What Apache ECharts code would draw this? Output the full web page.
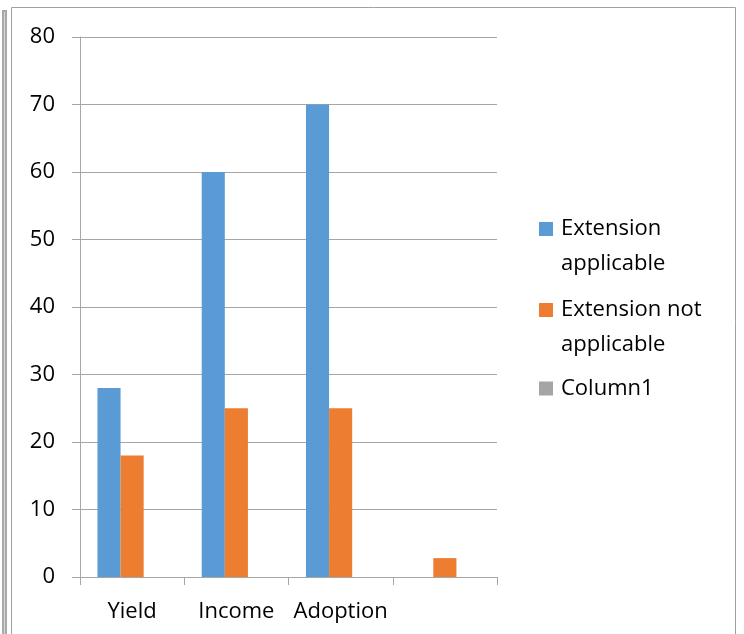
<!DOCTYPE html>
<html>
<head>
<meta charset="utf-8">
<style>
  html, body { margin: 0; padding: 0; background: #fff; }
  #chart { width: 744px; height: 634px; }
</style>
<script src="https://cdn.jsdelivr.net/npm/echarts@6/dist/echarts.min.js"></script>
</head>
<body>
<div id="chart"></div>
<script>
  // data
  var categories = ['Yield', 'Income', 'Adoption', ''];
  var extApplicable = [28, 60, 70, null];
  var extNotApplicable = [18, 25, 25, 2.8];
  var column1 = [null, null, null, null];
  var seriesNames = ['Extension applicable', 'Extension not applicable', 'Column1'];

  var font = "'Open Sans', 'Liberation Sans', sans-serif";
  var fontSize = 22;
  var axisGray = '#a6a6a6';
  // square sitting at the top of a taller box, so it lines up with the first text line
  var topSquare = 'path://M0,0H14V14H0Z M0,47.9H0.1V48H0Z';
  var legendText = { fontFamily: font, fontSize: fontSize, color: '#000', lineHeight: 35, padding: [0, 0, 0, 3] };

  var chart = echarts.init(document.getElementById('chart'));

  chart.setOption({
    animation: false,
    backgroundColor: '#fff',
    textStyle: { fontFamily: font, color: '#000' },
    graphic: [
      // outer frame
      {
        type: 'rect', silent: true,
        shape: { x: 11.5, y: 7.5, width: 724, height: 640 },
        style: { fill: 'none', stroke: '#a0a0a0', lineWidth: 1 }
      },
      // thick bar on the left
      {
        type: 'rect', silent: true,
        shape: { x: 2, y: 10, width: 5, height: 640 },
        style: { fill: '#a8a8a8' }
      },
      {
        type: 'rect', silent: true,
        shape: { x: 4, y: 12, width: 1, height: 640 },
        style: { fill: '#d8d8d8' }
      }
    ],
    grid: { left: 80, right: 247, top: 37, bottom: 57, containLabel: false },
    legend: [
      {
        orient: 'vertical',
        left: 539,
        top: 211,
        padding: 0,
        itemWidth: 14,
        itemHeight: 48,
        itemGap: 11,
        icon: topSquare,
        formatter: function (name) {
          return name.replace('Extension applicable', 'Extension\napplicable')
            .replace('Extension not applicable', 'Extension not\napplicable');
        },
        textStyle: legendText,
        data: [seriesNames[0], seriesNames[1]]
      },
      {
        orient: 'vertical',
        left: 539,
        top: 371,
        padding: 0,
        itemWidth: 14,
        itemHeight: 14,
        icon: 'rect',
        textStyle: legendText,
        data: [seriesNames[2]]
      }
    ],
    xAxis: {
      type: 'category',
      data: categories,
      axisLine: { lineStyle: { color: axisGray, width: 1 } },
      axisTick: { show: true, alignWithLabel: false, length: 8, lineStyle: { color: axisGray } },
      axisLabel: { fontFamily: font, fontSize: fontSize, color: '#000', margin: 24, interval: 0 },
      splitLine: { show: false }
    },
    yAxis: {
      type: 'value',
      min: 0, max: 80, interval: 10,
      axisLine: { show: true, lineStyle: { color: axisGray } },
      axisTick: { show: true, inside: false, length: 8, lineStyle: { color: axisGray } },
      axisLabel: { fontFamily: font, fontSize: fontSize, color: '#000', margin: 25 },
      splitLine: { show: true, lineStyle: { color: axisGray, width: 1 } }
    },
    series: [
      {
        name: seriesNames[0], type: 'bar', data: extApplicable,
        itemStyle: { color: '#5b9bd5' }, barGap: '0%', barCategoryGap: '33.5%'
      },
      {
        name: seriesNames[1], type: 'bar', data: extNotApplicable,
        itemStyle: { color: '#ed7d31' }
      },
      {
        name: seriesNames[2], type: 'bar', data: column1,
        itemStyle: { color: '#a5a5a5' }
      }
    ]
  });
</script>
</body>
</html>
